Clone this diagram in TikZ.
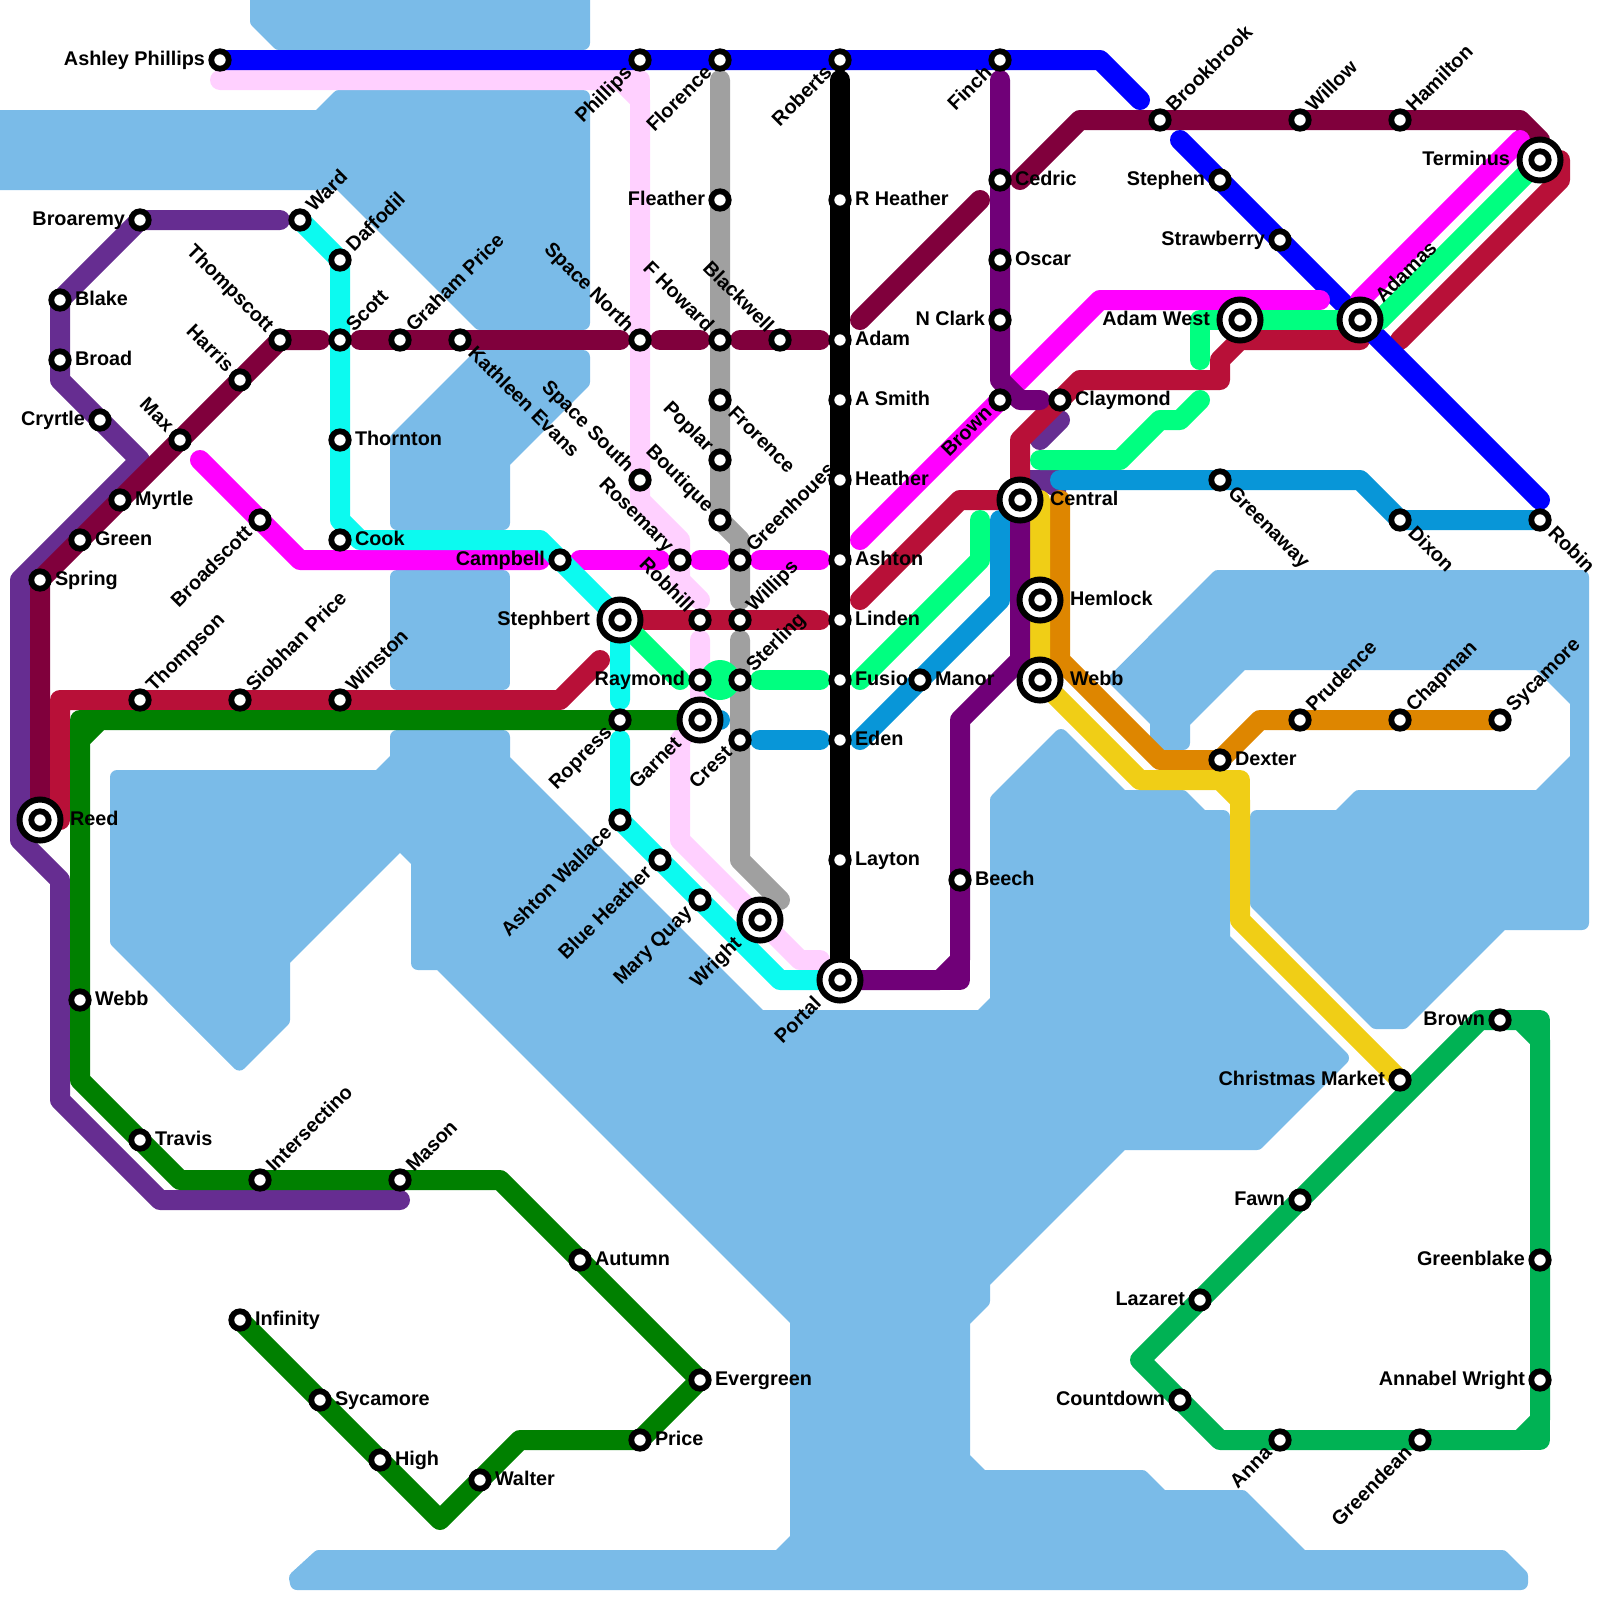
\documentclass[tikz,border=0pt]{standalone}
\usepackage{fontspec}
\setmainfont{Liberation Sans}
\usetikzlibrary{backgrounds}
\definecolor{water}{RGB}{122,187,232}
\definecolor{palepink}{RGB}{255,208,255}
\definecolor{midgray}{RGB}{160,160,160}
\definecolor{maroonln}{RGB}{128,0,60}
\definecolor{crimsonln}{RGB}{184,16,56}
\definecolor{magentaln}{RGB}{255,0,255}
\definecolor{blueln}{RGB}{0,0,255}
\definecolor{springln}{RGB}{0,255,128}
\definecolor{azureln}{RGB}{8,150,216}
\definecolor{cyanln}{RGB}{12,250,240}
\definecolor{plumln}{RGB}{112,0,120}
\definecolor{violetln}{RGB}{102,45,145}
\definecolor{greenln}{RGB}{0,128,0}
\definecolor{emeraldln}{RGB}{0,178,84}
\definecolor{orangeln}{RGB}{222,134,0}
\definecolor{yellowln}{RGB}{240,206,22}
\tikzset{
  sea/.style={fill=water, draw=water, line width=3.5mm, line join=round},
  ln/.style={line width=5mm, line cap=round, line join=round},
  stn/.style={circle, draw=black, fill=white, line width=1.45mm, minimum size=4.35mm, inner sep=0pt, outer sep=0pt},
  hub/.style={circle, draw=black, fill=white, line width=1.5mm, minimum size=10.25mm, inner sep=0pt, outer sep=0pt},
  lbl/.style={inner sep=0pt, outer sep=0pt, font=\fontsize{14.1}{16}\selectfont\bfseries},
  lblr/.style={lbl, shift={(#1,.25)}, anchor=base west},
  lblr/.default=.75,
  lbll/.style={lbl, shift={(-#1,.25)}, anchor=base east},
  lbll/.default=.75,
  lblne/.style={lbl, shift={({.707*(#1+.25)},{.707*(.25-#1)})}, rotate=45, anchor=base west},
  lblne/.default=.75,
  lblsw/.style={lbl, shift={({.707*(.25-#1)},{.707*(#1+.25)})}, rotate=45, anchor=base east},
  lblsw/.default=.75,
  lblse/.style={lbl, shift={({.707*(#1-.25)},{.707*(#1+.25)})}, rotate=-45, anchor=base west},
  lblse/.default=.75,
  lblnw/.style={lbl, shift={({.707*(-#1-.25)},{.707*(.25-#1)})}, rotate=-45, anchor=base east},
  lblnw/.default=.75,
}
\begin{document}
\begin{tikzpicture}[x=5mm,y=-5mm]
\useasboundingbox (0,0) rectangle (80,80);
% top row
\node[stn] (ashley) at (11,3) {}; \node[lbll] (ashleyl) at (ashley) {Ashley Phillips};
\node[stn] (phillips) at (32,3) {}; \node[lblsw] (phillipsl) at (phillips) {Phillips};
\node[stn] (florence) at (36,3) {}; \node[lblsw] (florencel) at (florence) {Florence};
\node[stn] (finch) at (50,3) {}; \node[lblsw] (finchl) at (finch) {Finch};
\node[stn] (brookbrook) at (58,6) {}; \node[lblne] (brookbrookl) at (brookbrook) {Brookbrook};
\node[stn] (willow) at (65,6) {}; \node[lblne] (willowl) at (willow) {Willow};
\node[stn] (hamilton) at (70,6) {}; \node[lblne] (hamiltonl) at (hamilton) {Hamilton};
\node[stn] (stephen) at (61,9) {}; \node[lbll] (stephenl) at (stephen) {Stephen};
\node[stn] (strawberry) at (64,12) {}; \node[lbll] (strawberryl) at (strawberry) {Strawberry};
\node[stn] (greenaway) at (61,24) {}; \node[lblse] (greenawayl) at (greenaway) {Greenaway};
\node[stn] (dixon) at (70,26) {}; \node[lblse] (dixonl) at (dixon) {Dixon};
\node[stn] (robin) at (77,26) {}; \node[lblse] (robinl) at (robin) {Robin};
\node[stn] (claymond) at (53,20) {}; \node[lblr] (claymondl) at (claymond) {Claymond};
% hubs
\node[hub] (terminus) at (77,8) {}; \node[stn] (terminusi) at (terminus) {}; \node[lbll=1.5] (terminusl) at (terminus) {Terminus};
\node[hub] (adamas) at (68,16) {}; \node[stn] (adamasi) at (adamas) {}; \node[lblne=1.4] (adamasl) at (adamas) {Adamas};
\node[hub] (adamwest) at (62,16) {}; \node[stn] (adamwesti) at (adamwest) {}; \node[lbll=1.5] (adamwestl) at (adamwest) {Adam West};
\node[hub] (central) at (51,25) {}; \node[stn] (centrali) at (central) {}; \node[lblr=1.5] (centrall) at (central) {Central};
\node[hub] (hemlock) at (52,30) {}; \node[stn] (hemlocki) at (hemlock) {}; \node[lblr=1.5] (hemlockl) at (hemlock) {Hemlock};
\node[hub] (webbe) at (52,34) {}; \node[stn] (webbei) at (webbe) {}; \node[lblr=1.5] (webbel) at (webbe) {Webb};
\node[hub] (stephbert) at (31,31) {}; \node[stn] (stephberti) at (stephbert) {}; \node[lbll=1.5] (stephbertl) at (stephbert) {Stephbert};
\node[hub] (garnet) at (35,36) {}; \node[stn] (garneti) at (garnet) {}; \node[lblsw=1.5] (garnetl) at (garnet) {Garnet};
\node[hub] (wright) at (38,46) {}; \node[stn] (wrighti) at (wright) {}; \node[lblsw=1.5] (wrightl) at (wright) {Wright};
\node[hub] (portal) at (42,49) {}; \node[stn] (portali) at (portal) {}; \node[lblsw=1.5] (portall) at (portal) {Portal};
\node[hub] (reed) at (2,41) {}; \node[stn] (reedi) at (reed) {}; \node[lblr=1.5] (reedl) at (reed) {Reed};
% east side
\node[stn] (prudence) at (65,36) {}; \node[lblne] (prudencel) at (prudence) {Prudence};
\node[stn] (chapman) at (70,36) {}; \node[lblne] (chapmanl) at (chapman) {Chapman};
\node[stn] (sycamoree) at (75,36) {}; \node[lblne] (sycamoreel) at (sycamoree) {Sycamore};
\node[stn] (dexter) at (61,38) {}; \node[lblr] (dexterl) at (dexter) {Dexter};
\node[stn] (cedric) at (50,9) {}; \node[lblr] (cedricl) at (cedric) {Cedric};
\node[stn] (oscar) at (50,13) {}; \node[lblr] (oscarl) at (oscar) {Oscar};
\node[stn] (nclark) at (50,16) {}; \node[lbll] (nclarkl) at (nclark) {N Clark};
\node[stn] (brownn) at (50,20) {}; \node[lblsw] (brownnl) at (brownn) {Brown};
\node[lblr] (fusionl) at (42,34) {Fusion};
\node[stn] (manor) at (46,34) {}; \node[lblr] (manorl) at (manor) {Manor};
\node[stn] (beech) at (48,44) {}; \node[lblr] (beechl) at (beech) {Beech};
% grey and pink stops
\node[stn] (fleather) at (36,10) {}; \node[lbll] (fleatherl) at (fleather) {Fleather};
\node[stn] (fhoward) at (36,17) {}; \node[lblnw] (fhowardl) at (fhoward) {F Howard};
\node[stn] (blackwell) at (39,17) {}; \node[lblnw] (blackwelll) at (blackwell) {Blackwell};
\node[stn] (frorence) at (36,20) {}; \node[lblse] (frorencel) at (frorence) {Frorence};
\node[stn] (poplar) at (36,23) {}; \node[lblnw] (poplarl) at (poplar) {Poplar};
\node[stn] (boutique) at (36,26) {}; \node[lblnw] (boutiquel) at (boutique) {Boutique};
\node[stn] (greenhoues) at (37,28) {}; \node[lblne] (greenhouesl) at (greenhoues) {Greenhoues};
\node[stn] (willips) at (37,31) {}; \node[lblne] (willipsl) at (willips) {Willips};
\node[stn] (sterling) at (37,34) {}; \node[lblne] (sterlingl) at (sterling) {Sterling};
\node[stn] (crest) at (37,37) {}; \node[lblsw] (crestl) at (crest) {Crest};
\node[stn] (spacenorth) at (32,17) {}; \node[lblnw] (spacenorthl) at (spacenorth) {Space North};
\node[stn] (spacesouth) at (32,24) {}; \node[lblnw] (spacesouthl) at (spacesouth) {Space South};
\node[stn] (rosemary) at (34,28) {}; \node[lblnw] (rosemaryl) at (rosemary) {Rosemary};
\node[stn] (robhill) at (35,31) {}; \node[lblnw] (robhilll) at (robhill) {Robhill};
\node[stn] (raymond) at (35,34) {}; \node[lbll] (raymondl) at (raymond) {Raymond};
% black line
\node[stn] (roberts) at (42,3) {}; \node[lblsw] (robertsl) at (roberts) {Roberts};
\node[stn] (rheather) at (42,10) {}; \node[lblr] (rheatherl) at (rheather) {R Heather};
\node[stn] (adam) at (42,17) {}; \node[lblr] (adaml) at (adam) {Adam};
\node[stn] (asmith) at (42,20) {}; \node[lblr] (asmithl) at (asmith) {A Smith};
\node[stn] (heather) at (42,24) {}; \node[lblr] (heatherl) at (heather) {Heather};
\node[stn] (ashton) at (42,28) {}; \node[lblr] (ashtonl) at (ashton) {Ashton};
\node[stn] (linden) at (42,31) {}; \node[lblr] (lindenl) at (linden) {Linden};
\node[stn] (fusion) at (42,34) {};
\node[stn] (eden) at (42,37) {}; \node[lblr] (edenl) at (eden) {Eden};
\node[stn] (layton) at (42,43) {}; \node[lblr] (laytonl) at (layton) {Layton};
% cyan line
\node[stn] (campbell) at (28,28) {}; \node[lbll] (campbelll) at (campbell) {Campbell};
\node[stn] (ropress) at (31,36) {}; \node[lblsw] (ropressl) at (ropress) {Ropress};
\node[stn] (ashtonw) at (31,41) {}; \node[lblsw] (ashtonwl) at (ashtonw) {Ashton Wallace};
\node[stn] (blueheather) at (33,43) {}; \node[lblsw] (blueheatherl) at (blueheather) {Blue Heather};
\node[stn] (maryquay) at (35,45) {}; \node[lblsw] (maryquayl) at (maryquay) {Mary Quay};
\node[stn] (ward) at (15,11) {}; \node[lblne] (wardl) at (ward) {Ward};
\node[stn] (daffodil) at (17,13) {}; \node[lblne] (daffodill) at (daffodil) {Daffodil};
\node[stn] (scott) at (17,17) {}; \node[lblne] (scottl) at (scott) {Scott};
\node[stn] (thornton) at (17,22) {}; \node[lblr] (thorntonl) at (thornton) {Thornton};
\node[stn] (cook) at (17,27) {}; \node[lblr] (cookl) at (cook) {Cook};
% west side
\node[stn] (grahamprice) at (20,17) {}; \node[lblne] (grahampricel) at (grahamprice) {Graham Price};
\node[stn] (kathleen) at (23,17) {}; \node[lblse] (kathleenl) at (kathleen) {Kathleen Evans};
\node[stn] (thompscott) at (14,17) {}; \node[lblnw] (thompscottl) at (thompscott) {Thompscott};
\node[stn] (harris) at (12,19) {}; \node[lblnw] (harrisl) at (harris) {Harris};
\node[stn] (max) at (9,22) {}; \node[lblnw] (maxl) at (max) {Max};
\node[stn] (myrtle) at (6,25) {}; \node[lblr] (myrtlel) at (myrtle) {Myrtle};
\node[stn] (green) at (4,27) {}; \node[lblr] (greenl) at (green) {Green};
\node[stn] (spring) at (2,29) {}; \node[lblr] (springl) at (spring) {Spring};
\node[stn] (broaremy) at (7,11) {}; \node[lbll] (broaremyl) at (broaremy) {Broaremy};
\node[stn] (blake) at (3,15) {}; \node[lblr] (blakel) at (blake) {Blake};
\node[stn] (broad) at (3,18) {}; \node[lblr] (broadl) at (broad) {Broad};
\node[stn] (cryrtle) at (5,21) {}; \node[lbll] (cryrtlel) at (cryrtle) {Cryrtle};
\node[stn] (broadscott) at (13,26) {}; \node[lblsw] (broadscottl) at (broadscott) {Broadscott};
\node[stn] (thompson) at (7,35) {}; \node[lblne] (thompsonl) at (thompson) {Thompson};
\node[stn] (siobhan) at (12,35) {}; \node[lblne] (siobhanl) at (siobhan) {Siobhan Price};
\node[stn] (winston) at (17,35) {}; \node[lblne] (winstonl) at (winston) {Winston};
% dark green line
\node[stn] (webbw) at (4,50) {}; \node[lblr] (webbwl) at (webbw) {Webb};
\node[stn] (travis) at (7,57) {}; \node[lblr] (travisl) at (travis) {Travis};
\node[stn] (intersectino) at (13,59) {}; \node[lblne] (intersectinol) at (intersectino) {Intersectino};
\node[stn] (mason) at (20,59) {}; \node[lblne] (masonl) at (mason) {Mason};
\node[stn] (autumn) at (29,63) {}; \node[lblr] (autumnl) at (autumn) {Autumn};
\node[stn] (evergreen) at (35,69) {}; \node[lblr] (evergreenl) at (evergreen) {Evergreen};
\node[stn] (price) at (32,72) {}; \node[lblr] (pricel) at (price) {Price};
\node[stn] (walter) at (24,74) {}; \node[lblr] (walterl) at (walter) {Walter};
\node[stn] (high) at (19,73) {}; \node[lblr] (highl) at (high) {High};
\node[stn] (sycamorew) at (16,70) {}; \node[lblr] (sycamorewl) at (sycamorew) {Sycamore};
\node[stn] (infinity) at (12,66) {}; \node[lblr] (infinityl) at (infinity) {Infinity};
% emerald and yellow ends
\node[stn] (browns) at (75,51) {}; \node[lbll] (brownsl) at (browns) {Brown};
\node[stn] (christmas) at (70,54) {}; \node[lbll] (christmasl) at (christmas) {Christmas Market};
\node[stn] (fawn) at (65,60) {}; \node[lbll] (fawnl) at (fawn) {Fawn};
\node[stn] (lazaret) at (60,65) {}; \node[lbll] (lazaretl) at (lazaret) {Lazaret};
\node[stn] (countdown) at (59,70) {}; \node[lbll] (countdownl) at (countdown) {Countdown};
\node[stn] (anna) at (64,72) {}; \node[lblsw] (annal) at (anna) {Anna};
\node[stn] (greendean) at (71,72) {}; \node[lblsw] (greendeanl) at (greendean) {Greendean};
\node[stn] (annabel) at (77,69) {}; \node[lbll] (annabell) at (annabel) {Annabel Wright};
\node[stn] (greenblake) at (77,63) {}; \node[lbll] (greenblakel) at (greenblake) {Greenblake};
% free line ends
\coordinate (palea) at (11,4); \coordinate (paleb) at (35,30); \coordinate (palec) at (35,32); \coordinate (paled) at (41,48);
\coordinate (graya) at (36,4); \coordinate (grayb) at (37,30); \coordinate (grayc) at (37,32); \coordinate (grayd) at (39,45);
\coordinate (blacka) at (42,4);
\coordinate (bluea) at (57,5); \coordinate (blueb) at (59,7); \coordinate (bluec) at (77,25);
\coordinate (pluma) at (50,4); \coordinate (plumb) at (52,20);
\coordinate (vioa) at (14,11); \coordinate (viob) at (20,60); \coordinate (vioc) at (53,21); \coordinate (viod) at (52,22);
\coordinate (mara) at (16,17); \coordinate (marb) at (18,17); \coordinate (marc) at (31,17); \coordinate (mard) at (33,17); \coordinate (mare) at (35,17); \coordinate (marf) at (37,17); \coordinate (marg) at (41,17); \coordinate (marh) at (43,16); \coordinate (mari) at (49,10); \coordinate (marj) at (51,9);
\coordinate (crma) at (3,41); \coordinate (crmb) at (30,33); \coordinate (crmc) at (41,31); \coordinate (crmd) at (43,30); \coordinate (crme) at (68,17); \coordinate (crmf) at (70,17);
\coordinate (maga) at (10,23); \coordinate (magb) at (27,28); \coordinate (magc) at (29,28); \coordinate (magd) at (33,28); \coordinate (mage) at (35,28); \coordinate (magf) at (36,28); \coordinate (magg) at (38,28); \coordinate (magh) at (41,28); \coordinate (magi) at (43,27); \coordinate (magj) at (66,15); \coordinate (magk) at (76,7); \coordinate (magl) at (68,15);
\coordinate (spra) at (34,34); \coordinate (sprb) at (38,34); \coordinate (sprc) at (41,34); \coordinate (sprd) at (43,34); \coordinate (spre) at (49,26); \coordinate (sprf) at (52,23); \coordinate (sprg) at (60,20); \coordinate (sprh) at (60,18); \coordinate (spri) at (69,16);
\coordinate (azra) at (36,36); \coordinate (azrb) at (38,37); \coordinate (azrc) at (41,37); \coordinate (azrd) at (43,37); \coordinate (azre) at (50,26); \coordinate (azrf) at (53,24);
\coordinate (cyaa) at (31,35); \coordinate (cyab) at (31,37);
\coordinate (orna) at (53,25); \coordinate (yela) at (52,25);
\begin{scope}[on background layer]
% water
\draw[sea] (12.85,-1) -- (29.15,-1) -- (29.15,2.15) -- (13.95,2.15) -- (12.85,1.05) -- cycle;
\draw[sea] (16.95,4.85) -- (29.15,4.85) -- (29.15,16.15) -- (24,16.15) -- (17,9.15) -- (-1,9.15) -- (-1,5.85) -- (15.95,5.85) -- cycle;
\draw[sea] (23.95,17.85) -- (29.15,17.85) -- (29.15,19.1) -- (25.15,23.1) -- (25.15,26.15) -- (19.85,26.15) -- (19.85,21.95) -- cycle;
\draw[sea] (19.85,28.85) rectangle (25.15,34.15);
\draw[sea] (19.85,36.85) -- (25.15,36.85) -- (25.15,38) -- (38,50.85) -- (49.05,50.85) -- (49.85,50.05) -- (49.85,40) -- (53.05,36.8) -- (56.1,39.85) -- (59.1,39.85) -- (60.1,40.85) -- (61.15,40.85) -- (61.15,46.95) -- (67.1,52.9) -- (62.85,57.15) -- (56.1,57.15) -- (49.15,64.1) -- (49.15,65.05) -- (48.15,66.05) -- (48.15,72.9) -- (49.1,73.85) -- (57.1,73.85) -- (58.1,74.85) -- (62.1,74.85) -- (65.1,77.85) -- (75.1,77.85) -- (76.05,78.8) -- (76.05,79.15) -- (14.85,79.15) -- (14.8,78.9) -- (15.95,77.85) -- (38.95,77.85) -- (39.85,76.95) -- (39.85,66) -- (22,48.15) -- (20.9,48.15) -- (20.9,43.05) -- (20,42.15) -- (14.15,48) -- (14.15,51) -- (11.97,53.18) -- (5.85,47.05) -- (5.85,38.85) -- (18.95,38.85) -- (19.85,37.95) -- cycle;
\draw[sea] (60.9,28.85) -- (79.1,28.85) -- (79.1,46.15) -- (75.1,46.15) -- (70.15,51.1) -- (68.8,51.1) -- (62.85,45.15) -- (62.85,40.85) -- (66.95,40.85) -- (67.95,39.85) -- (76.95,39.85) -- (78.85,37.95) -- (78.85,35.05) -- (76.95,33.15) -- (62.1,33.15) -- (59.15,36.1) -- (59.15,37.15) -- (57.85,37.15) -- (57.85,36.05) -- (55.78,33.98) -- cycle;
% lines
\draw[ln,palepink] (palea) -- (31,4) -- (32,5) -- (32,25) -- (34,27) -- (34,29) -- (paleb);
\draw[ln,palepink] (31,4) -- (32,4) -- (32,5);
\draw[ln,palepink] (palec) -- (garnet.center) -- (34,37) -- (34,42) -- (40,48) -- (paled);
\draw[ln,midgray] (graya) -- (36,26) -- (37,27) -- (grayb);
\draw[ln,midgray] (grayc) -- (37,43) -- (grayd);
\draw[ln,violetln] (vioa) -- (broaremy.center) -- (3,15) -- (3,19) -- (7,23) -- (1,29) -- (1,42) -- (3,44) -- (3,55) -- (8,60) -- (viob);
\draw[ln,violetln] (vioc) -- (viod);
\fill[violetln] (51.5,23.5) -- (53.3,23.5) -- (53.3,24.9) -- (52.8,24.9) -- (51.5,24.2) -- cycle;
\draw[ln,maroonln] (reed.center) -- (spring.center) -- (thompscott.center) -- (mara);
\draw[ln,maroonln] (marb) -- (marc);
\draw[ln,maroonln] (mard) -- (mare);
\draw[ln,maroonln] (marf) -- (marg);
\draw[ln,maroonln] (marh) -- (mari);
\draw[ln,maroonln] (marj) -- (54,6) -- (76,6) -- (77,7) -- (terminus.center);
\draw[ln,crimsonln] (crma) -- (3,35) -- (28,35) -- (crmb);
\draw[ln,crimsonln] (stephbert.center) -- (crmc);
\draw[ln,crimsonln] (crmd) -- (48,25) -- (central.center) -- (51,22) -- (54,19) -- (61,19) -- (61,18) -- (62,17) -- (crme);
\draw[ln,crimsonln] (crmf) -- (78,9) -- (78,8);
\draw[ln,blueln] (ashley.center) -- (55,3) -- (bluea);
\draw[ln,blueln] (blueb) -- (bluec);
\draw[ln,magentaln] (maga) -- (15,28) -- (magb);
\draw[ln,magentaln] (magc) -- (magd);
\draw[ln,magentaln] (mage) -- (magf);
\draw[ln,magentaln] (magg) -- (magh);
\draw[ln,magentaln] (magi) -- (55,15) -- (magj);
\draw[ln,magentaln] (magl) -- (magk);
\fill[springln] (36,34) circle (1);
\draw[ln,springln] (stephbert.center) -- (spra);
\draw[ln,springln] (sprb) -- (sprc);
\draw[ln,springln] (sprd) -- (49,28) -- (spre);
\draw[ln,springln] (sprf) -- (56,23) -- (58,21) -- (59,21) -- (sprg);
\draw[ln,springln] (sprh) -- (60,16) -- (adamas.center);
\draw[ln,springln] (spri) -- (terminus.center);
\draw[ln,azureln] (garnet.center) -- (azra);
\draw[ln,azureln] (azrb) -- (azrc);
\draw[ln,azureln] (azrd) -- (50,30) -- (azre);
\draw[ln,azureln] (azrf) -- (68,24) -- (dixon.center) -- (robin.center);
\draw[ln,cyanln] (ward.center) -- (daffodil.center) -- (17,26) -- (18,27) -- (27,27) -- (stephbert.center) -- (cyaa);
\draw[ln,cyanln] (cyab) -- (ashtonw.center) -- (39,49) -- (portal.center);
\draw[ln,greenln] (garnet.center) -- (5,36) -- (4,37) -- (4,54) -- (9,59) -- (25,59) -- (evergreen.center) -- (price.center) -- (26,72) -- (22,76) -- (infinity.center);
\draw[ln,greenln] (5,36) -- (4,36) -- (4,37);
\draw[ln,orangeln] (orna) -- (53,33) -- (58,38) -- (dexter.center) -- (63,36) -- (sycamoree.center);
\draw[ln,yellowln] (yela) -- (webbe.center) -- (57,39) -- (61,39) -- (62,40) -- (62,46) -- (christmas.center);
\draw[ln,yellowln] (61,39) -- (62,39) -- (62,40);
\draw[ln,plumln] (pluma) -- (50,19) -- (51,20) -- (plumb);
\draw[ln,plumln] (central.center) -- (51,33) -- (48,36) -- (48,48) -- (47,49) -- (portal.center);
\draw[ln,plumln] (47,49) -- (48,49) -- (48,48);
\draw[ln,emeraldln] (57,68) -- (61,72) -- (76,72) -- (77,71) -- (77,52) -- (76,51) -- (74,51) -- cycle;
\draw[ln,emeraldln] (76,51) -- (77,51) -- (77,52);
\draw[ln,emeraldln] (76,72) -- (77,72) -- (77,71);
\draw[ln,black] (blacka) -- (portal.center);
\end{scope}
\end{tikzpicture}
\end{document}
